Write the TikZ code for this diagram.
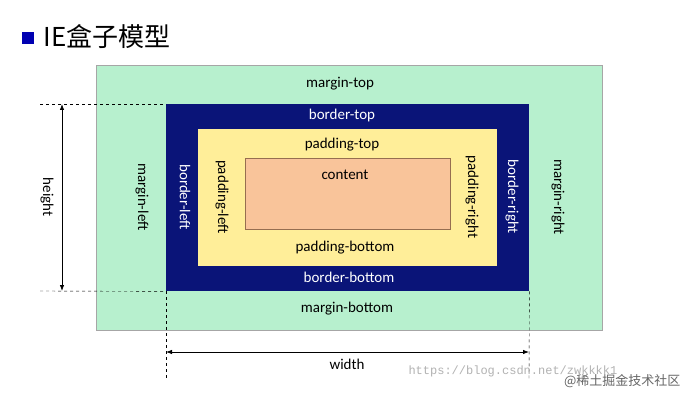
\documentclass[tikz,border=0pt]{standalone}
\usepackage{fontspec}
\setmainfont{Carlito}
\newfontfamily\cjk{Noto Sans CJK SC}
\newfontfamily\monof{Liberation Mono}
\usetikzlibrary{arrows.meta}
\begin{document}
\begin{tikzpicture}[x=1pt,y=-1pt,
  lbl/.style={font=\fontsize{15}{17}\selectfont},
  wl/.style={lbl,text=white},
  dim/.style={{Latex[length=6pt]}-{Latex[length=6pt]},thick},
  guide/.style={dashed,thin}]
\useasboundingbox (0,0) rectangle (695,401);
\fill[white] (0,0) rectangle (695,401);
% title
\fill[blue!70!black] (22,32) rectangle (34,44);
\node[anchor=west,font=\cjk\fontsize{26}{30}\selectfont] (title) at (40,37) {IE盒子模型};
% boxes
\node[draw=gray!70,fill={rgb,255:red,183;green,240;blue,206},minimum width=506,minimum height=265,inner sep=0,anchor=north west] (margin) at (96,65) {};
\node[fill={rgb,255:red,10;green,20;blue,120},minimum width=363,minimum height=187,inner sep=0,anchor=north west] (border) at (166,104) {};
\node[fill={rgb,255:red,255;green,238;blue,153},minimum width=299,minimum height=137,inner sep=0,anchor=north west] (padding) at (198,129) {};
\node[draw={rgb,255:red,150;green,110;blue,80},fill={rgb,255:red,249;green,196;blue,154},minimum width=205,minimum height=71,inner sep=0,anchor=north west] (content) at (245,158) {};
% labels
\node[lbl] (mt) at (340,84) {margin-top};
\node[lbl] (mb) at (347,309) {margin-bottom};
\node[lbl,rotate=-90] (ml) at (142,197) {margin-left};
\node[lbl,rotate=-90] (mr) at (558,197) {margin-right};
\node[wl] (bt) at (342,116) {border-top};
\node[wl] (bb) at (349,277) {border-bottom};
\node[wl,rotate=-90] (bl) at (185,197) {border-left};
\node[wl,rotate=-90] (br) at (512,197) {border-right};
\node[lbl] (pt) at (342,145) {padding-top};
\node[lbl] (pb) at (345,248) {padding-bottom};
\node[lbl,rotate=-90] (pl) at (222,197) {padding-left};
\node[lbl,rotate=-90] (pr) at (472,197) {padding-right};
\node[lbl] (ct) at (345,175) {content};
% height
\coordinate (h1) at (40,104); \coordinate (h2) at (40,291);
\draw[guide] (h1) -- (border.north west);
\draw[guide] (h2) -- (border.south west);
\draw[dim] (62,104) -- (62,291);
\node[lbl,rotate=-90] (hl) at (47,197) {height};
% width
\coordinate (w1) at (166,380); \coordinate (w2) at (529,380);
\draw[guide] (border.south west) -- (w1);
\draw[guide] (border.south east) -- (w2);
\draw[dim] (166,352) -- (529,352);
\node[lbl] (wlb) at (347,364) {width};
% watermark
\node[anchor=west,text=gray!60,font=\monof\fontsize{12}{14}\selectfont] (wm) at (405,371) {https://blog.csdn.net/zwkkkk1};
\node[anchor=east,text=gray!80!black,font=\cjk\fontsize{13}{15}\selectfont] (wm2) at (684,381) {@稀土掘金技术社区};
\end{tikzpicture}
\end{document}
